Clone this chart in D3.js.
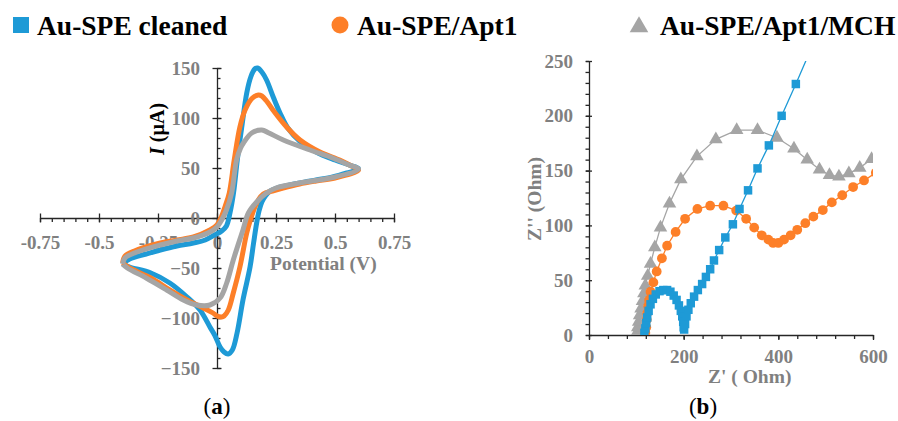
<!DOCTYPE html>
<html>
<head>
<meta charset="utf-8">
<script src="https://cdn.jsdelivr.net/npm/d3@7"></script>
<style>
  body { margin: 0; background: #fff; }
  svg { display: block; font-family: "Liberation Serif", "Times New Roman", serif; }
  .tick line, .domain { stroke: #262626; stroke-width: 1.3; }
</style>
</head>
<body>
<script>
// series names + colours (legend)
var seriesNames = ["Au-SPE cleaned", "Au-SPE/Apt1", "Au-SPE/Apt1/MCH"];
var colors = ["#1e9ad6", "#fd7f28", "#a5a5a5"];

// (a) cyclic voltammetry, potential in V, current in µA
var cvCleanedV = [-0.40,-0.37,-0.30,-0.24,-0.17,-0.10,-0.05,-0.01,0.02,0.04,0.055,0.07,0.086,0.105,0.126,0.143,0.16,0.172,0.19,0.21,0.24,0.267,0.30,0.35,0.42,0.50,0.56,0.60,
  0.55,0.49,0.42,0.35,0.29,0.254,0.225,0.205,0.19,0.178,0.168,0.155,0.14,0.11,0.085,0.065,0.047,0.03,0.013,-0.01,-0.03,-0.072,-0.127,-0.20,-0.28,-0.37,-0.40];
var cvCleanedI = [-46,-41,-36,-32,-28,-25,-22,-17,-13,-8,5,25,58,91,125,141,149,150,146,138,120,105,90,77,66,58,53,49,
  45,41,38,35,32,30,27,22,16,7,-5,-25,-49,-82,-115,-132,-136,-134,-129,-117,-109,-92,-79,-65,-55,-49,-46];

var cvApt1V = [-0.40,-0.39,-0.35,-0.24,-0.17,-0.10,-0.03,0.0,0.02,0.035,0.052,0.073,0.097,0.119,0.15,0.175,0.19,0.21,0.237,0.295,0.352,0.436,0.52,0.57,0.60,
  0.50,0.42,0.35,0.28,0.235,0.196,0.175,0.154,0.14,0.126,0.097,0.069,0.048,0.03,0.02,0.0,-0.017,-0.058,-0.127,-0.20,-0.28,-0.37,-0.40];
var cvApt1I = [-45,-38,-33,-25,-22,-19,-12,-7,2,12,25,58,91,108,120,123,122,117,108,91,78,66,58,52,48,
  40,37,34,30,27,24,18,7,-3,-15,-49,-75,-92,-98,-99,-98,-95,-90,-82,-72,-60,-50,-45];

var cvMchV = [-0.40,-0.39,-0.35,-0.24,-0.17,-0.10,-0.03,0.0,0.02,0.04,0.062,0.083,0.10,0.112,0.147,0.19,0.22,0.281,0.394,0.49,0.56,0.60,
  0.50,0.35,0.25,0.21,0.168,0.133,0.11,0.069,0.041,0.013,-0.03,-0.086,-0.143,-0.213,-0.30,-0.38,-0.40];
var cvMchI = [-46,-40,-35,-27,-23,-20,-14,-9,-2,8,25,58,70,75,85,88,85,78,68,60,53,49,
  41,35,30,25,16,5,-12,-42,-65,-80,-87,-87,-82,-72,-60,-50,-46];

var cvXTicks = [-0.75,-0.5,-0.25,0,0.25,0.5,0.75];
var cvXLabels = ["-0.75","-0.5","-0.25","0","0.25","0.5","0.75"];
var cvYTicks = [-150,-100,-50,0,50,100,150];

// (b) Nyquist plot, Z' and Z'' in Ohm
var eisCleanedRe = [117,119,121,123,126,130,135,141,149,157,165,172,179,185,190,194,197,199,200,201,203,206,210,215,222,230,239,247,256,264,275,288,304,318,336,356,380,407,437,470];
var eisCleanedIm = [2,6,11,16,22,28,33,37,40,41,41,39.5,36,32,27,22,17,12,7,5,10,17,23,29,35,41,46.5,53,60,68,77.5,89,101,115,132,152,173,200,229,262];

var eisApt1Re = [119,121,122,123,125,127,130,136,143,154,165,183,203,229,256,284,311,332,349,365,379,389,400,412,426,440,457,474,494,513,535,558,581,606];
var eisApt1Im = [2,7,14,20,26.5,32,39.5,48,58,70,81.5,94,106,115,118,118,113.5,106,98,91,87,84,84,87,91,96,102,108,114,121,127.5,135,141,148];

var eisMchRe = [101,103,105,107,110,113,116,119,124,130,139,151,170,194,228,268,312,356,397,433,461,487,508,528,549,572,597];
var eisMchIm = [2,7,12,18,24,31,38,45,54,65,80,98,120,142,163,178.5,187,187,180,170,160,151,146,144.5,147.5,152.5,160.5];

var eisXTicks = [0,200,400,600];
var eisYTicks = [0,50,100,150,200,250];

var svg = d3.select("body").append("svg").attr("width", 898).attr("height", 421);

// d3.axis puts sans-serif 10px on its group; restyle the labels like the figure
function serif(g) {
  g.attr("font-family", null).attr("font-size", null);
  g.selectAll("text")
    .style("font-family", "'Liberation Serif', 'Times New Roman', serif")
    .style("font-weight", "bold")
    .style("font-size", "19px")
    .attr("fill", "#808080");
}

// ---------- legend ----------
var legend = svg.append("g");
legend.append("rect").attr("x", 13).attr("y", 17).attr("width", 16).attr("height", 16).attr("fill", colors[0]);
legend.append("circle").attr("cx", 340).attr("cy", 25).attr("r", 8.5).attr("fill", colors[1]);
legend.append("path").attr("d", d3.symbol(d3.symbolTriangle, 150)()).attr("transform", "translate(639,27)").attr("fill", colors[2]);
[37, 357, 660].forEach(function (x, i) {
  legend.append("text").attr("x", x).attr("y", 34.5).text(seriesNames[i])
    .attr("font-size", 27.5).attr("font-weight", "bold").attr("fill", "#000");
});

// ---------- (a) ----------
var x1 = d3.scaleLinear().domain([-0.75, 0.75]).range([40, 394]);
var y1 = d3.scaleLinear().domain([-150, 150]).range([368, 68]);
var minorX1 = d3.range(-15, 16).map(function (d) { return d * 0.05; });
var minorY1 = d3.range(-15, 16).map(function (d) { return d * 10; });

var ga = svg.append("g");
ga.append("g").attr("transform", "translate(0," + y1(0) + ")")
  .call(d3.axisBottom(x1).tickValues(minorX1).tickSize(4).tickSizeOuter(0).tickFormat(""));
ga.append("g").attr("transform", "translate(0," + (y1(0) - 4.5) + ")")
  .call(d3.axisBottom(x1).tickValues(cvXTicks).tickSize(9).tickFormat(""))
  .select(".domain").remove();
ga.append("g").attr("transform", "translate(0," + y1(0) + ")")
  .call(d3.axisBottom(x1).tickValues(cvXTicks).tickSize(0).tickPadding(18)
    .tickFormat(function (d, i) { return cvXLabels[i]; }))
  .call(serif)
  .call(function (g) { g.select(".domain").remove(); });

ga.append("g").attr("transform", "translate(" + x1(0) + ",0)")
  .call(d3.axisRight(y1).tickValues(minorY1).tickSize(3.5).tickSizeOuter(0).tickFormat(""));
ga.append("g").attr("transform", "translate(" + (x1(0) - 4.5) + ",0)")
  .call(d3.axisRight(y1).tickValues(cvYTicks).tickSize(9).tickFormat(""))
  .select(".domain").remove();
ga.append("g").attr("transform", "translate(" + x1(0) + ",0)")
  .call(d3.axisLeft(y1).tickValues(cvYTicks).tickSize(0).tickPadding(17).tickFormat(d3.format("d")))
  .call(serif)
  .call(function (g) { g.select(".domain").remove(); });

ga.append("text").attr("x", 270).attr("y", 270).text("Potential (V)")
  .attr("font-size", 19.5).attr("font-weight", "bold").attr("fill", "#808080");
var yt = ga.append("text").attr("transform", "translate(164,129) rotate(-90)")
  .attr("text-anchor", "middle").attr("font-size", 20).attr("font-weight", "bold").attr("fill", "#000");
yt.append("tspan").attr("font-style", "italic").text("I");
yt.append("tspan").text(" (µA)");

var cvLine = d3.line()
  .x(function (d) { return x1(d[0]); })
  .y(function (d) { return y1(d[1]); })
  .curve(d3.curveCatmullRom.alpha(0.5));
[[cvCleanedV, cvCleanedI], [cvApt1V, cvApt1I], [cvMchV, cvMchI]].forEach(function (s, i) {
  ga.append("path").datum(d3.zip(s[0], s[1]))
    .attr("d", cvLine).attr("fill", "none").attr("stroke", colors[i])
    .attr("stroke-width", 5).attr("stroke-linejoin", "round");
});

svg.append("text").attr("x", 217).attr("y", 414).attr("text-anchor", "middle")
  .attr("font-size", 23).attr("fill", "#000")
  .html('(<tspan font-weight="bold">a</tspan>)');

// ---------- (b) ----------
var x2 = d3.scaleLinear().domain([0, 600]).range([589, 873]);
var y2 = d3.scaleLinear().domain([0, 250]).range([335, 61]);
var minorX2 = d3.range(0, 601, 40);
var minorY2 = d3.range(0, 251, 10);

var gb = svg.append("g");
gb.append("clipPath").attr("id", "clipb").append("rect")
  .attr("x", 589).attr("y", 61).attr("width", 284).attr("height", 274);

gb.append("g").attr("transform", "translate(0," + y2(0) + ")")
  .call(d3.axisBottom(x2).tickValues(minorX2).tickSize(4).tickSizeOuter(0).tickFormat(""));
gb.append("g").attr("transform", "translate(0," + y2(0) + ")")
  .call(d3.axisBottom(x2).tickValues(eisXTicks).tickSize(5).tickPadding(10).tickFormat(d3.format("d")))
  .call(serif)
  .select(".domain").remove();
gb.append("g").attr("transform", "translate(" + x2(0) + ",0)")
  .call(d3.axisLeft(y2).tickValues(minorY2).tickSize(3.5).tickSizeOuter(0).tickFormat(""));
gb.append("g").attr("transform", "translate(" + (x2(0) + 3) + ",0)")
  .call(d3.axisLeft(y2).tickValues(eisYTicks).tickSize(6).tickFormat(""))
  .select(".domain").remove();
gb.append("g").attr("transform", "translate(" + x2(0) + ",0)")
  .call(d3.axisLeft(y2).tickValues(eisYTicks).tickSize(0).tickPadding(16).tickFormat(d3.format("d")))
  .call(serif)
  .call(function (g) { g.select(".domain").remove(); });

gb.append("text").attr("x", 708).attr("y", 383).text("Z' ( Ohm)").attr("xml:space", "preserve")
  .attr("font-size", 19.5).attr("font-weight", "bold").attr("fill", "#808080");
gb.append("text").attr("transform", "translate(541,199) rotate(-90)").attr("text-anchor", "middle")
  .text("Z'' (Ohm)").attr("font-size", 19.5).attr("font-weight", "bold").attr("fill", "#808080");

var eisLine = d3.line()
  .x(function (d) { return x2(d[0]); })
  .y(function (d) { return y2(d[1]); });
var plotB = gb.append("g").attr("clip-path", "url(#clipb)");
var eisSeries = [[eisCleanedRe, eisCleanedIm], [eisApt1Re, eisApt1Im], [eisMchRe, eisMchIm]];
var markers = [d3.symbolSquare, d3.symbolCircle, d3.symbolTriangle];
var markerSizes = [72, 75, 80];
[2, 1, 0].forEach(function (i) {
  var pts = d3.zip(eisSeries[i][0], eisSeries[i][1]);
  var sg = plotB.append("g");
  sg.append("path").datum(pts).attr("d", eisLine)
    .attr("fill", "none").attr("stroke", colors[i]).attr("stroke-width", 1.3);
  sg.selectAll(".m").data(pts).enter().append("path")
    .attr("d", d3.symbol(markers[i], markerSizes[i]))
    .attr("transform", function (d) { return "translate(" + x2(d[0]) + "," + y2(d[1]) + ")"; })
    .attr("fill", colors[i]);
});

svg.append("text").attr("x", 703).attr("y", 414).attr("text-anchor", "middle")
  .attr("font-size", 23).attr("fill", "#000")
  .html('(<tspan font-weight="bold">b</tspan>)');
</script>
</body>
</html>
